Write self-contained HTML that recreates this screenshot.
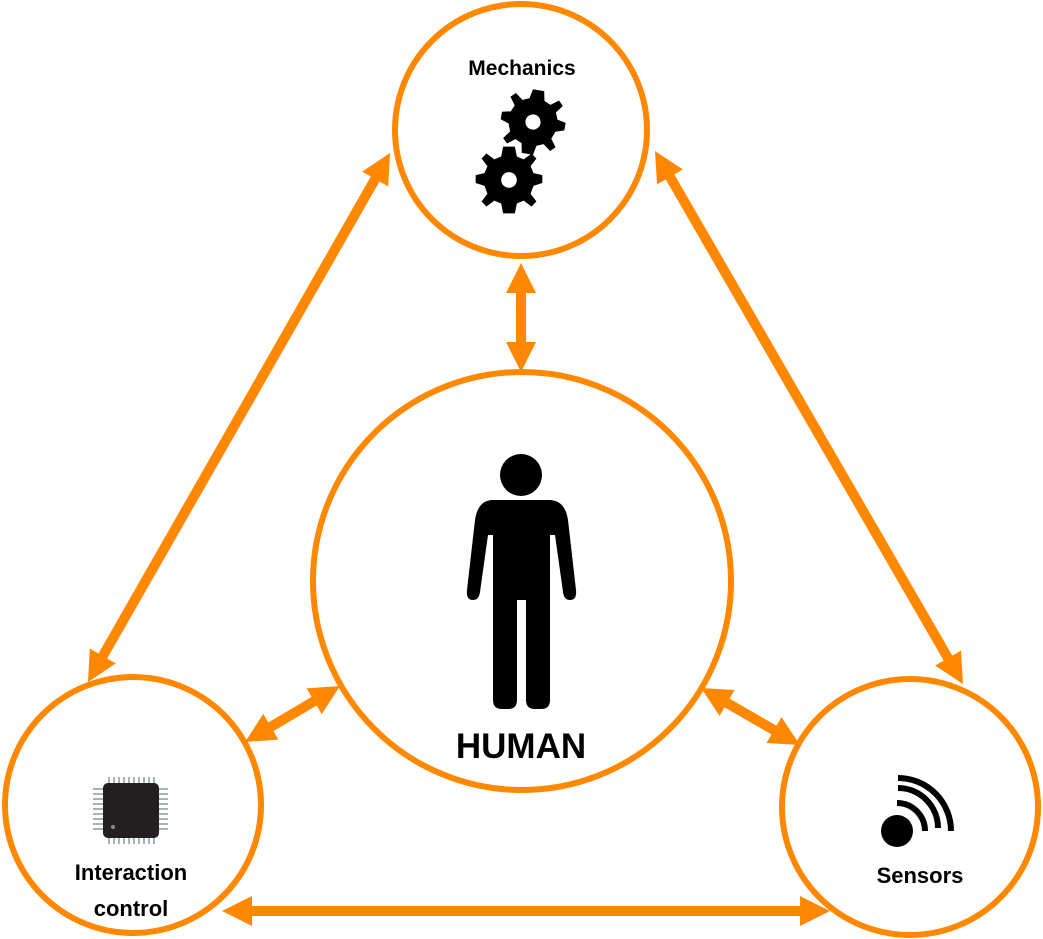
<!DOCTYPE html>
<html><head><meta charset="utf-8"><style>
html,body{margin:0;padding:0;background:#fff;}
svg{display:block;}
text{font-family:"Liberation Sans",sans-serif;font-weight:bold;fill:#000;}
</style></head><body>
<svg width="1043" height="939" viewBox="0 0 1043 939" xmlns="http://www.w3.org/2000/svg">
<defs>
<marker id="a" markerUnits="userSpaceOnUse" markerWidth="30" markerHeight="30" refX="10" refY="15" orient="auto-start-reverse" viewBox="0 0 30 30">
<path d="M0,0 L30,15 L0,30 Z" fill="#FF8800"/>
</marker>
<g id="gear">
<path fill="#000" d="M0,-34 L6,-34 L8,-24 L15,-21 L23,-27 L28,-22 L22,-14 L25,-7 L34,-5 L34,3 L25,6 L22,14 L28,22 L23,27 L15,21 L8,24 L6,34 L-6,34 L-8,24 L-15,21 L-23,27 L-28,22 L-22,14 L-25,6 L-34,3 L-34,-5 L-25,-7 L-22,-14 L-28,-22 L-23,-27 L-15,-21 L-8,-24 L-6,-34 Z"/>
<circle r="8" fill="#fff"/>
</g>
</defs>
<g fill="none" stroke="#FF8800" stroke-width="6">
<circle cx="521" cy="130" r="126"/>
<circle cx="522" cy="581" r="209"/>
<circle cx="133" cy="805" r="128"/>
<circle cx="910" cy="807" r="128"/>
</g>
<g stroke="#FF8800" stroke-width="10" fill="none" marker-start="url(#a)" marker-end="url(#a)">
<line x1="521" y1="283" x2="521" y2="352"/>
<line x1="380.1" y1="170.4" x2="97.9" y2="664.6"/>
<line x1="665" y1="168.3" x2="953" y2="666.7"/>
<line x1="242" y1="911" x2="810" y2="911"/>
<line x1="322.7" y1="696.2" x2="262.3" y2="731.8"/>
<line x1="718.4" y1="698" x2="782.6" y2="735"/>
</g>
<text x="522" y="75" font-size="21" text-anchor="middle">Mechanics</text>
<use href="#gear" transform="translate(533,122) scale(0.95) rotate(10)"/>
<use href="#gear" transform="translate(509,180) scale(0.98)"/>
<g fill="#000">
<circle cx="521" cy="475" r="21"/>
<path d="M493,500 L549,500 Q565,500 568,520 L576,590 Q577,600 570,600 Q564,600 563,592 L555,535 L550,535 L550,700 Q550,709 541,709 L535,709 Q526,709 526,700 L526,600 L517,600 L517,700 Q517,709 508,709 L502,709 Q493,709 493,700 L493,535 L488,535 L480,592 Q479,600 473,600 Q466,600 467,590 L475,520 Q478,500 493,500 Z"/>
</g>
<text x="521" y="758" font-size="35" text-anchor="middle">HUMAN</text>
<g stroke="#8a9aa0" stroke-width="1.5">
<path d="M109,777 v10 M114,777 v10 M119,777 v10 M124,777 v10 M129,777 v10 M134,777 v10 M139,777 v10 M144,777 v10 M149,777 v10 M154,777 v10"/>
<path d="M109,834 v10 M114,834 v10 M119,834 v10 M124,834 v10 M129,834 v10 M134,834 v10 M139,834 v10 M144,834 v10 M149,834 v10 M154,834 v10"/>
<path d="M93,789 h12 M93,794 h12 M93,799 h12 M93,804 h12 M93,809 h12 M93,814 h12 M93,819 h12 M93,824 h12 M93,829 h12"/>
<path d="M156,789 h12 M156,794 h12 M156,799 h12 M156,804 h12 M156,809 h12 M156,814 h12 M156,819 h12 M156,824 h12 M156,829 h12"/>
</g>
<rect x="103" y="783" width="56" height="55" rx="5" fill="#231f20"/>
<circle cx="113" cy="827" r="2" fill="#888"/>
<text x="131" y="880" font-size="22" text-anchor="middle">Interaction</text>
<text x="131" y="916" font-size="22" text-anchor="middle">control</text>
<circle cx="897" cy="831" r="16" fill="#000"/>
<g fill="none" stroke="#000" stroke-width="6">
<path d="M897,803 A28,28 0 0 1 925,831"/>
<path d="M897,791 A40,40 0 0 1 937,831" transform="translate(1,-3)"/>
<path d="M897,778 A53,53 0 0 1 950,831" transform="translate(1,0)"/>
</g>
<text x="920" y="883" font-size="22" text-anchor="middle">Sensors</text>
</svg>
</body></html>
